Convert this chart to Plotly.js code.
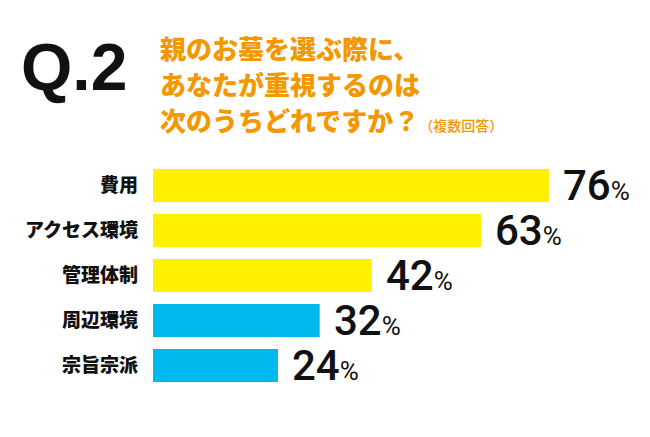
<!DOCTYPE html>
<html>
<head>
<meta charset="utf-8">
<script src="https://cdn.plot.ly/plotly-3.0.1.min.js"></script>
<style>
html,body{margin:0;padding:0;background:#fff;}
#chart{width:650px;height:437px;}
</style>
</head>
<body>
<div id="chart"></div>
<script>
// ---- data ----
const categories = ["費用", "アクセス環境", "管理体制", "周辺環境", "宗旨宗派"];
const percentValues = [76, 63, 42, 32, 24];
const questionLabel = "Q.2";
const questionLines = ["親のお墓を選ぶ際に、", "あなたが重視するのは", "次のうちどれですか？"];
const questionNote = "（複数回答）";

// ---- style ----
const YELLOW = "#FFF100";
const BLUE = "#00B8EE";
const ORANGE = "#F39800";
const barColors = percentValues.map((v, i) => i < 3 ? YELLOW : BLUE);

const W = 650, H = 437;
const M = {l: 153, r: 0, t: 159, b: 45};
const plotW = W - M.l - M.r, plotH = H - M.t - M.b;
const px = x => (x - M.l) / plotW;
const py = y => (H - M.b - y) / plotH;

const CJK = "Noto Sans CJK JP, sans-serif";
const NUM = "Roboto, Liberation Sans, Arial, sans-serif";

const annotations = [];
// value labels
categories.forEach((c, i) => {
  annotations.push({
    x: percentValues[i], y: c, xref: "x", yref: "y",
    text: percentValues[i] + '<span style="font-size:26px;font-weight:400">%</span>',
    showarrow: false, xanchor: "left", yanchor: "middle",
    xshift: 12, yshift: 0,
    font: {family: NUM, size: 42, color: "#111", weight: 500}
  });
});
// Q.2
annotations.push({
  x: px(19), y: py(67), xref: "paper", yref: "paper",
  text: questionLabel, showarrow: false, xanchor: "left", yanchor: "middle",
  font: {family: "Liberation Sans, Arial, sans-serif", size: 66, color: "#111", weight: 700}
});
// question lines
const lineYs = [47, 84, 120];
questionLines.forEach((t, i) => {
  let txt = t;
  if (i === questionLines.length - 1) {
    txt += '<span style="font-size:14px;font-weight:500">' + questionNote + '</span>';
  }
  annotations.push({
    x: px(158), y: py(lineYs[i]), xref: "paper", yref: "paper",
    text: txt, showarrow: false, xanchor: "left", yanchor: "middle",
    font: {family: CJK, size: 26, color: ORANGE, weight: 900}
  });
});

const trace = {
  type: "bar",
  orientation: "h",
  x: percentValues,
  y: categories,
  marker: {color: barColors, line: {width: 0}},
  hoverinfo: "none"
};

const layout = {
  width: W, height: H,
  margin: M,
  paper_bgcolor: "#fff", plot_bgcolor: "#fff",
  showlegend: false,
  bargap: 0.27,
  xaxis: {range: [0, 95.4], visible: false, fixedrange: true},
  yaxis: {
    type: "category",
    categoryorder: "array", categoryarray: categories,
    autorange: "reversed",
    showgrid: false, zeroline: false, showline: false, ticks: "",
    ticklabelstandoff: 14,
    tickfont: {family: CJK, size: 19, color: "#111", weight: 900},
    fixedrange: true
  },
  annotations: annotations
};

Plotly.newPlot("chart", [trace], layout, {displayModeBar: false, staticPlot: true});
</script>
</body>
</html>
